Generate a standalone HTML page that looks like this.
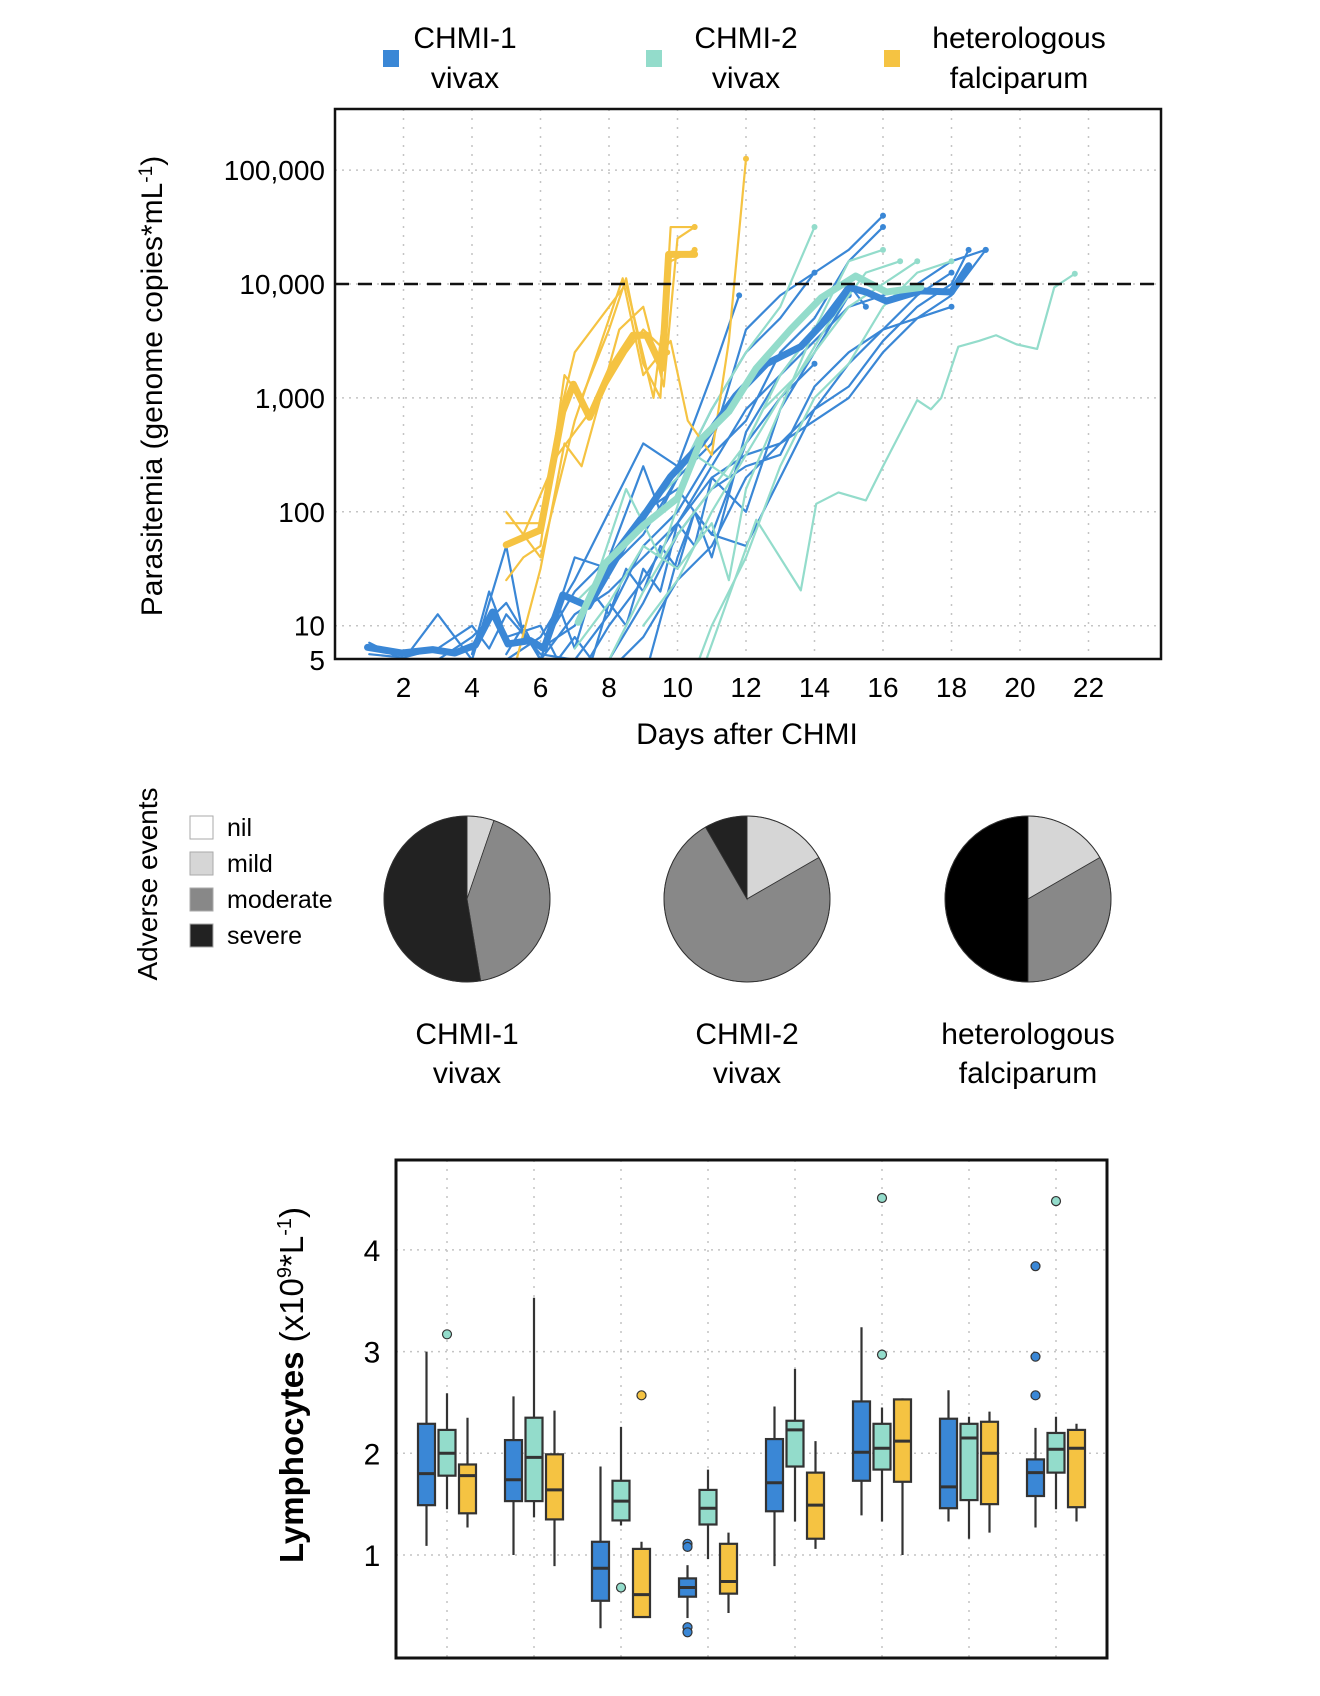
<!DOCTYPE html>
<html><head><meta charset="utf-8">
<style>
html,body{margin:0;padding:0;background:#fff;}
svg{display:block;font-family:"Liberation Sans",sans-serif;}
</style></head>
<body>
<svg id="fig" width="1320" height="1696" viewBox="0 0 1320 1696" xmlns="http://www.w3.org/2000/svg">
<defs><clipPath id="lc"><rect x="335" y="109" width="826" height="550"/></clipPath></defs>
<g id="legendTop">
 <rect x="383" y="50" width="16" height="17" fill="#3a87d6"/>
 <text x="465" y="48" font-size="30" text-anchor="middle">CHMI-1</text>
 <text x="465" y="88" font-size="30" text-anchor="middle">vivax</text>
 <rect x="646" y="50" width="16" height="17" fill="#93dccb"/>
 <text x="746" y="48" font-size="30" text-anchor="middle">CHMI-2</text>
 <text x="746" y="88" font-size="30" text-anchor="middle">vivax</text>
 <rect x="884" y="50" width="16" height="17" fill="#f5c342"/>
 <text x="1019" y="48" font-size="30" text-anchor="middle">heterologous</text>
 <text x="1019" y="88" font-size="30" text-anchor="middle">falciparum</text>
</g>
<g id="lineChart"></g>
<g id="pies"></g>
<g id="boxChart"></g>
</svg>
<script>
const NS='http://www.w3.org/2000/svg';
function mk(parent,tag,attrs,txt){const e=document.createElementNS(NS,tag);for(const k in attrs)e.setAttribute(k,attrs[k]);if(txt!==undefined)e.textContent=txt;parent.appendChild(e);return e;}
const BLUE='#3a87d6',TEAL='#93dccb',YEL='#f5c342';

// ---------- Line chart data (day, log10 parasitemia) ----------
const xTicks=[2,4,6,8,10,12,14,16,18,20,22];
const yTickVals=[5,10,100,1000,10000,100000];
const yTickLabels=['5','10','100','1,000','10,000','100,000'];
const threshold=10000;
const yellowMean=[[5,1.71],[6,1.84],[6.65,2.88],[6.96,3.12],[7.43,2.83],[8.07,3.26],[8.7,3.55],[9.1,3.55],[9.55,3.26],[9.74,4.26],[10.05,4.26],[10.5,4.26]];
const blueMean=[[0.95,0.81],[1.96,0.76],[2.85,0.79],[3.5,0.76],[4.1,0.83],[4.6,1.12],[5.05,0.84],[5.7,0.87],[6.1,0.8],[6.65,1.27],[7.4,1.17],[8.5,1.74],[9.8,2.31],[10.7,2.6],[11.7,3.02],[12.6,3.3],[13.6,3.45],[14.5,3.74],[15,3.97],[15.5,3.93],[16.1,3.85],[17.1,3.94],[18,3.93],[18.5,4.16]];
const tealMean=[[7.1,1.03],[7.9,1.55],[9.0,1.88],[10,2.12],[10.7,2.64],[11.5,2.88],[12.3,3.26],[13.3,3.6],[14.2,3.88],[15.2,4.07],[16.1,3.93],[17.1,3.97]];
const yellowThin=[
 [[5,1.4],[5.5,1.6],[6,1.7],[6.7,3.2],[7.2,3.0],[8,3.6],[8.5,4.05],[9,3.3],[9.5,3.0],[9.8,4.5],[10.5,4.5]],
 [[5,1.9],[6,1.9],[6.6,2.9],[7,3.4],[8.5,4.0],[9.3,3.0],[9.8,4.2],[10.5,4.3]],
 [[5.3,0.7],[6,1.5],[6.7,2.6],[7.2,2.4],[8.3,3.6],[9,3.8],[9.6,3.1],[10,4.4],[10.5,4.5]],
 [[5,2.0],[6,1.6],[7,2.8],[8.4,4.05],[9,3.2],[9.8,3.5],[10.3,2.8],[11,2.5],[11.5,3.5],[12,5.1]],
 [[5.5,1.8],[6.5,2.5],[7.5,2.9],[8.5,3.4],[9,3.6],[9.7,3.4]]
];
const blueThin=[
 [[1,0.85],[2,0.7],[3,1.1],[4,0.7],[5,1.7],[5.5,0.9],[6,0.8],[7,1.0],[8,1.6],[9,2.4],[9.5,2.0],[10,2.3],[11,2.6],[12,3.6],[13,3.9],[14,4.1]],
 [[3,0.7],[4,0.9],[5,1.2],[6,0.7],[7,1.6],[8,1.5],[9,1.8],[10,2.3],[11,2.9],[12,3.4],[13,3.7],[14,4.1],[15,4.3],[16,4.6]],
 [[6,0.7],[7,1.1],[8,1.3],[9,1.6],[10,1.9],[11,2.4],[12,2.9],[13,3.2],[14,3.5],[15,3.8],[16,3.9],[17,4.0],[18,4.2],[19,4.3]],
 [[7,0.5],[8,1.0],[9,1.4],[10,1.9],[11,2.3],[12,2.5],[13,2.6],[14,2.9],[15,3.1],[16,3.5],[17,3.8],[18,4.0],[18.5,4.3]],
 [[8,0.6],[9,0.9],[10,1.4],[11,1.7],[12,2.3],[13,2.6],[14,2.8],[15,3.0],[16,3.4],[17,3.7],[18,3.9],[19,4.3]],
 [[9,0.5],[10,1.6],[10.5,2.0],[11,1.6],[12,2.7],[13,3.2],[14,3.6],[15,4.0],[15.5,3.8]],
 [[5,0.7],[6,0.9],[7,1.4],[8,2.0],[9,2.6],[10,2.4],[11,3.2],[11.8,3.9]],
 [[6,0.8],[7,1.3],[8,1.6],[9,2.0],[10,2.2],[11,1.8],[12,1.7],[13,2.3],[14,2.9],[15,3.3],[16,3.6],[17,3.7],[18,3.8]],
 [[1,0.75],[2,0.72],[3,0.8],[4,1.0],[4.5,0.8],[5,1.1],[6,0.75],[7,0.7],[8,1.1],[9,1.7],[10,2.0],[11,2.5],[12,2.8],[13,3.4],[14,3.7],[15,4.2],[16,4.5]],
 [[8,0.7],[9,1.2],[10,1.8],[11,2.2],[12,2.4],[13,2.5],[14,3.1],[15,3.4],[16,3.6],[17,3.9],[18,4.1]],
 [[5,0.75],[5.5,1.0],[6,0.7],[6.5,1.2],[7,0.8],[7.5,1.3],[8,1.1],[8.5,1.5],[9,1.3],[9.5,1.7],[10,1.5],[10.5,2.0],[11,1.8],[12,2.6],[13,3.0],[14,3.3]],
 [[4,0.75],[4.5,1.3],[5,0.9],[6,1.0],[6.5,0.7],[7,0.9],[7.5,0.7],[8,1.2],[8.5,1.0],[9,1.5],[9.5,1.3],[10,1.9],[10.5,1.7],[11,2.3],[12,2.0],[13,2.9],[14,3.4],[15,3.9]]
];
const tealThin=[
 [[7,1.2],[8,1.5],[9,2.0],[10,2.3],[11,2.9],[12,3.4],[13,3.8],[14,4.5]],
 [[8,0.7],[9,1.3],[10,1.8],[11,2.2],[12,2.6],[13,3.2],[14,3.6],[15,4.2],[16,4.3]],
 [[9,1.0],[10,1.4],[11,2.0],[12,2.5],[13,3.0],[14,3.4],[15,3.8],[16,4.0],[17,4.2]],
 [[7.5,1.3],[8.5,2.2],[9.5,1.6],[10.5,2.5],[11.5,2.3],[12.5,2.9],[13.5,3.2],[14.5,3.7],[15.5,4.1],[16.5,4.2]],
 [[10.6,0.5],[12.3,1.93],[13.6,1.31],[14.05,2.07],[14.7,2.17],[15.5,2.1],[16,2.4],[17,2.98],[17.4,2.9],[17.7,3.0],[18.2,3.45],[18.8,3.5],[19.3,3.55],[19.9,3.47],[20.5,3.43],[21,3.97],[21.6,4.09]],
 [[10.5,0.6],[11,1.0],[12,1.6],[13,2.4],[14,3.0],[15,3.3],[16,3.8],[17,4.1],[18,4.2]],
 [[7,0.8],[8,1.2],[9,1.7],[10,1.5],[11,1.9],[11.5,1.4],[12,2.2],[13,2.9],[14,3.6]]
];

const LX0=335,LX1=1161,LY0=109,LY1=659;
const lx=d=>335+d*34.25;
const ly=lg=>284-(lg-4)*113.9;
const lc=document.getElementById('lineChart');
xTicks.forEach(d=>{const g=mk(lc,'line',{x1:lx(d),x2:lx(d),y1:LY0,y2:LY1,stroke:'#c4c4c4','stroke-width':1.5,'stroke-dasharray':'2 7'});

});
yTickVals.slice(1).forEach(v=>{const g=mk(lc,'line',{x1:LX0,x2:LX1,y1:ly(Math.log10(v)),y2:ly(Math.log10(v)),stroke:'#c4c4c4','stroke-width':1.5,'stroke-dasharray':'2 5'});

});
const series=mk(lc,'g',{'clip-path':'url(#lc)'});


function poly(pts,color,w,name,dot){
 const p=mk(series,'polyline',{points:pts.map(q=>lx(q[0])+','+ly(q[1])).join(' '),fill:'none',stroke:color,'stroke-width':w,'stroke-linejoin':'round','stroke-linecap':'round'});
 
 
 if(dot){const l=pts[pts.length-1];const c=mk(series,'circle',{cx:lx(l[0]),cy:ly(l[1]),r:3,fill:color});
 
 }
}
blueThin.forEach(s=>poly(s,BLUE,2.2,'chmi1-subject-line',true));
tealThin.forEach(s=>poly(s,TEAL,2.2,'chmi2-subject-line',true));
yellowThin.forEach(s=>poly(s,YEL,2.2,'falciparum-subject-line',true));
poly(blueMean,BLUE,7,'chmi1-mean-line',false);
poly(tealMean,TEAL,7,'chmi2-mean-line',false);
poly(yellowMean,YEL,7,'falciparum-mean-line',false);
const th=mk(lc,'line',{x1:LX0,x2:LX1,y1:ly(Math.log10(threshold)),y2:ly(Math.log10(threshold)),stroke:'#111','stroke-width':2.5,'stroke-dasharray':'14 9'});


const fr=mk(lc,'rect',{x:LX0,y:LY0,width:LX1-LX0,height:LY1-LY0,fill:'none',stroke:'#111','stroke-width':2.5});


xTicks.forEach(d=>{const t=mk(lc,'text',{x:lx(d),y:697,'font-size':28,'text-anchor':'middle'},String(d));

});
yTickVals.forEach((v,i)=>{const t=mk(lc,'text',{x:325,y:Math.min(ly(Math.log10(v))+10,684),'font-size':28,'text-anchor':'end'},yTickLabels[i]);

});
let t1=mk(lc,'text',{x:747,y:744,'font-size':30,'text-anchor':'middle'},'Days after CHMI');


let t2=mk(lc,'text',{x:0,y:0,'font-size':30,'text-anchor':'middle',transform:'translate(162,386) rotate(-90)'});


t2.innerHTML='Parasitemia (genome copies*mL<tspan dy="-10" font-size="19">-1</tspan><tspan dy="10">)</tspan>';

// ---------- Pies ----------
const pieGroups=['CHMI-1','CHMI-2','heterologous'];
const pieSub=['vivax','vivax','falciparum'];
const nilCounts=[0,0,0];
const mildCounts=[1,2,1];
const moderateCounts=[8,9,2];
const severeCounts=[10,1,3];
const pieColors=['#ffffff','#d6d6d6','#888888','#222222'];
const catNames=['nil','mild','moderate','severe'];
const pg=document.getElementById('pies');
const pcx=[467,747,1028],pcy=899,pr=83;
pieGroups.forEach((g,i)=>{
 const vals=[nilCounts[i],mildCounts[i],moderateCounts[i],severeCounts[i]];
 const tot=vals.reduce((a,b)=>a+b,0);let a0=0;
 vals.forEach((v,j)=>{ if(!v)return;
  const a1=a0+v/tot*2*Math.PI;
  const x0=pcx[i]+pr*Math.sin(a0),y0=pcy-pr*Math.cos(a0),x1=pcx[i]+pr*Math.sin(a1),y1=pcy-pr*Math.cos(a1);
  const col=(j===3&&i===2)?'#000':pieColors[j];
  const s=mk(pg,'path',{d:`M${pcx[i]},${pcy} L${x0},${y0} A${pr},${pr} 0 ${a1-a0>Math.PI?1:0} 1 ${x1},${y1} Z`,fill:col,stroke:'#333','stroke-width':0.8});
  
  
  a0=a1;});
 const o=mk(pg,'circle',{cx:pcx[i],cy:pcy,r:pr,fill:'none',stroke:'#333','stroke-width':1});
 
 
 const l1=mk(pg,'text',{x:pcx[i],y:1044,'font-size':30,'text-anchor':'middle'},g);
 
 
 const l2=mk(pg,'text',{x:pcx[i],y:1083,'font-size':30,'text-anchor':'middle'},pieSub[i]);
 
 
});
const legY=[816,852,888,924];
catNames.forEach((c,j)=>{
 const r=mk(pg,'rect',{x:190,y:legY[j],width:23,height:23,fill:pieColors[j],stroke:'#aaa','stroke-width':1});
 
 
 const t=mk(pg,'text',{x:227,y:legY[j]+20,'font-size':25},c);
 
 
});
let ae=mk(pg,'text',{x:0,y:0,'font-size':28,'text-anchor':'middle',transform:'translate(157,884) rotate(-90)'},'Adverse events');



// ---------- Box plots ----------
// each: [low, q1, median, q3, high]
const blueBoxes=[[1.09,1.49,1.80,2.29,3.0],[1.0,1.53,1.74,2.13,2.56],[0.28,0.55,0.87,1.13,1.87],[0.38,0.59,0.68,0.77,0.90],[0.89,1.43,1.71,2.14,2.46],[1.39,1.73,2.01,2.51,3.24],[1.33,1.46,1.67,2.34,2.62],[1.27,1.58,1.81,1.94,2.25]];
const tealBoxes=[[1.45,1.78,2.00,2.23,2.59],[1.37,1.53,1.96,2.35,3.53],[1.29,1.34,1.53,1.73,2.26],[0.96,1.30,1.46,1.64,1.84],[1.33,1.87,2.23,2.32,2.83],[1.33,1.84,2.05,2.29,2.45],[1.16,1.54,2.15,2.29,2.36],[1.45,1.81,2.04,2.20,2.36]];
const yellowBoxes=[[1.27,1.41,1.78,1.89,2.35],[0.89,1.35,1.64,1.99,2.42],[0.39,0.39,0.61,1.06,1.13],[0.43,0.62,0.74,1.11,1.22],[1.06,1.16,1.49,1.81,2.12],[1.0,1.72,2.12,2.53,2.54],[1.22,1.50,2.00,2.31,2.41],[1.33,1.47,2.05,2.23,2.29]];
const blueOut=[[],[],[],[1.11,1.08,0.29,0.24],[],[],[],[3.84,2.95,2.57]];
const tealOut=[[3.17],[],[0.68],[],[],[4.51,2.97],[],[4.48]];
const yellowOut=[[],[],[2.57],[],[],[],[],[]];
const bTicks=[1,2,3,4];
const BX0=396,BX1=1107,BY0=1160,BY1=1658;
const bx=i=>447+i*87;
const by=v=>1555-(v-1)*101.7;
const bc=document.getElementById('boxChart');
blueBoxes.forEach((_,i)=>{const g=mk(bc,'line',{x1:bx(i),x2:bx(i),y1:BY0,y2:BY1,stroke:'#c4c4c4','stroke-width':1.5,'stroke-dasharray':'2 7'});

});
bTicks.forEach(v=>{const g=mk(bc,'line',{x1:BX0,x2:BX1,y1:by(v),y2:by(v),stroke:'#c4c4c4','stroke-width':1.5,'stroke-dasharray':'2 5'});


const t=mk(bc,'text',{x:372,y:by(v)+11,'font-size':30,'text-anchor':'middle'},String(v));

});
function drawBox(arr,outs,off,color,name){
 arr.forEach((b,i)=>{const cx=bx(i)+off,w=17;
  const wl=mk(bc,'line',{x1:cx,x2:cx,y1:by(b[0]),y2:by(b[4]),stroke:'#333','stroke-width':2.2});
  
  
  const r=mk(bc,'rect',{x:cx-w/2,y:by(b[3]),width:w,height:Math.max(1,by(b[1])-by(b[3])),fill:color,stroke:'#333','stroke-width':2.2});
  
  
  const m=mk(bc,'line',{x1:cx-w/2,x2:cx+w/2,y1:by(b[2]),y2:by(b[2]),stroke:'#333','stroke-width':3});
  
  
  outs[i].forEach(v=>{const c=mk(bc,'circle',{cx:cx,cy:by(v),r:4.5,fill:color,stroke:'#333','stroke-width':1.2});
  
  });
 });
}
drawBox(blueBoxes,blueOut,-20.5,BLUE,'chmi1');
drawBox(tealBoxes,tealOut,0,TEAL,'chmi2');
drawBox(yellowBoxes,yellowOut,20.5,YEL,'falciparum');
const bf=mk(bc,'rect',{x:BX0,y:BY0,width:BX1-BX0,height:BY1-BY0,fill:'none',stroke:'#111','stroke-width':3});


let lt=mk(bc,'text',{x:0,y:0,'font-size':33,'text-anchor':'middle',transform:'translate(303,1385) rotate(-90)'});


lt.innerHTML='<tspan font-weight="bold">Lymphocytes</tspan> (x10<tspan dy="-12" font-size="20">9</tspan><tspan dy="12">*L</tspan><tspan dy="-12" font-size="20">-1</tspan><tspan dy="12">)</tspan>';
</script>
</body></html>
